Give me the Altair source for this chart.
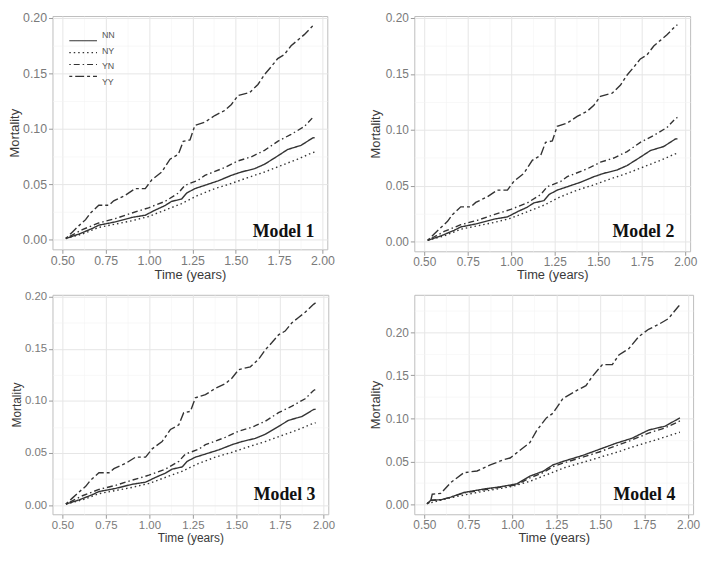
import altair as alt
import pandas as pd

# ---------------- data ----------------
series = ["NN", "NY", "YN", "YY"]

# Models 1-3 (the three panels are visually identical)
m1_nn_t = [0.52, 0.596, 0.672, 0.71, 0.806, 0.901, 0.978, 1.035, 1.092, 1.13, 1.188, 1.217, 1.264, 1.322,
           1.398, 1.475, 1.532, 1.608, 1.666, 1.742, 1.80, 1.876, 1.943, 1.955]
m1_nn_v = [0.001, 0.005, 0.010, 0.013, 0.016, 0.020, 0.022, 0.0266, 0.0307, 0.0345, 0.0366, 0.042, 0.046, 0.049,
           0.053, 0.058, 0.061, 0.064, 0.068, 0.0755, 0.0814, 0.085, 0.0917, 0.092]
m1_ny_t = [0.52, 0.615, 0.71, 0.806, 0.901, 0.997, 1.092, 1.188, 1.283, 1.379, 1.475, 1.57, 1.666, 1.761,
           1.857, 1.943, 1.955]
m1_ny_v = [0.001, 0.005, 0.011, 0.014, 0.017, 0.0208, 0.0266, 0.0325, 0.040, 0.046, 0.0507, 0.056, 0.061,
           0.0668, 0.0726, 0.0785, 0.079]
m1_yn_t = [0.52, 0.615, 0.71, 0.806, 0.901, 0.997, 1.092, 1.169, 1.207, 1.283, 1.322, 1.436, 1.513, 1.589,
           1.666, 1.742, 1.819, 1.895, 1.943, 1.955]
m1_yn_v = [0.001, 0.009, 0.015, 0.019, 0.024, 0.0287, 0.0345, 0.042, 0.049, 0.0536, 0.058, 0.065, 0.071,
           0.0747, 0.0805, 0.0887, 0.095, 0.102, 0.110, 0.111]
m1_yy_t = [0.52, 0.557, 0.596, 0.634, 0.662, 0.71, 0.768, 0.796, 0.863, 0.92, 0.978, 1.016, 1.073, 1.121,
           1.169, 1.197, 1.236, 1.264, 1.322, 1.379, 1.436, 1.475, 1.513, 1.58, 1.628, 1.666, 1.704, 1.742,
           1.78, 1.819, 1.857, 1.895, 1.943, 1.955]
m1_yy_v = [0.001, 0.0067, 0.0126, 0.018, 0.024, 0.031, 0.031, 0.035, 0.040, 0.046, 0.046, 0.054, 0.061,
           0.0726, 0.077, 0.0887, 0.090, 0.103, 0.106, 0.112, 0.1165, 0.122, 0.130, 0.1327, 0.140, 0.149,
           0.156, 0.1634, 0.167, 0.175, 0.180, 0.185, 0.1927, 0.194]

# Model 4
m4_nn_t = [0.515, 0.5375, 0.594, 0.65, 0.725, 0.8375, 0.931, 1.025, 1.10, 1.175, 1.231, 1.2875, 1.40,
           1.494, 1.5875, 1.681, 1.775, 1.869, 1.953]
m4_nn_v = [0.001, 0.005, 0.0056, 0.0086, 0.014, 0.018, 0.0206, 0.024, 0.033, 0.0386, 0.046, 0.050, 0.057,
           0.064, 0.071, 0.077, 0.0865, 0.091, 0.1006]
m4_ny_t = [0.515, 0.65, 0.8, 1.0, 1.1, 1.2, 1.3, 1.4, 1.5, 1.6, 1.7, 1.8, 1.953]
m4_ny_v = [0.001, 0.008, 0.014, 0.021, 0.027, 0.035, 0.043, 0.049, 0.055, 0.061, 0.068, 0.074, 0.084]
m4_yn_t = [0.515, 0.5375, 0.594, 0.65, 0.725, 0.8375, 0.931, 1.025, 1.10, 1.175, 1.231, 1.2875, 1.40,
           1.494, 1.5875, 1.681, 1.775, 1.869, 1.953]
m4_yn_v = [0.001, 0.005, 0.0056, 0.0086, 0.0135, 0.017, 0.020, 0.023, 0.031, 0.037, 0.044, 0.048, 0.055,
           0.061, 0.068, 0.075, 0.083, 0.089, 0.097]
m4_yy_t = [0.515, 0.535, 0.545, 0.594, 0.65, 0.725, 0.80, 0.875, 0.95, 0.9875, 1.044, 1.10, 1.1375, 1.194,
           1.231, 1.2875, 1.3625, 1.419, 1.456, 1.5125, 1.569, 1.606, 1.6625, 1.719, 1.775, 1.831, 1.8875,
           1.944, 1.955]
m4_yy_v = [0.001, 0.003, 0.012, 0.013, 0.0255, 0.037, 0.039, 0.046, 0.052, 0.054, 0.063, 0.072, 0.0855,
           0.1006, 0.106, 0.123, 0.132, 0.138, 0.149, 0.1625, 0.1625, 0.1737, 0.181, 0.195, 0.2035, 0.209,
           0.2158, 0.230, 0.232]

x_major = [0.5, 0.75, 1.0, 1.25, 1.5, 1.75, 2.0]
x_minor = [0.625, 0.875, 1.125, 1.375, 1.625, 1.875]
y_major = [0.0, 0.05, 0.10, 0.15, 0.20]
y_minor_a = [0.025, 0.075, 0.125, 0.175]
y_minor_b = [0.025, 0.075, 0.125, 0.175, 0.225]

model_labels = ["Model 1", "Model 2", "Model 3", "Model 4"]

# ---------------- styling ----------------
LINE = "#333333"
dash_styles = [[1, 0], [1.5, 3], [1.5, 3, 6, 3], [3, 3, 9, 3]]
X_DOMAIN = [0.443, 2.028]


def frame(nn_t, nn_v, ny_t, ny_v, yn_t, yn_v, yy_t, yy_v):
    parts = []
    for name, t, v in [("NN", nn_t, nn_v), ("NY", ny_t, ny_v), ("YN", yn_t, yn_v), ("YY", yy_t, yy_v)]:
        parts.append(pd.DataFrame({"series": name, "time": t, "mortality": v}))
    return pd.concat(parts, ignore_index=True)


def panel(df, label, ydom, yminor, w, h, fs, tfs, tpad, lab_dx, lab_dy, legend=False):
    xminor_test = "abs(datum.value*4 - round(datum.value*4)) > 0.01"
    yminor_test = "abs(datum.value*20 - round(datum.value*20)) > 0.01"
    x_axis = alt.Axis(
        values=sorted(x_major + x_minor),
        labelExpr=f"{xminor_test} ? '' : format(datum.value, '.2f')",
        title="Time (years)", titleFontSize=tfs, titleFont="Liberation Sans", titleFontWeight="normal",
        titleColor="#3a3a3a", titlePadding=2,
        labelFont="Liberation Sans", labelFontSize=fs, labelColor="#7a7a7a", labelPadding=1,
        labelFlush=False, domain=False, tickSize=4,
        tickColor={"condition": {"test": xminor_test, "value": "transparent"}, "value": "#9a9a9a"},
        gridColor={"condition": {"test": xminor_test, "value": "#f3f3f3"}, "value": "#e6e6e6"},
        gridWidth={"condition": {"test": xminor_test, "value": 0.6}, "value": 1},
    )
    y_axis = alt.Axis(
        values=sorted(y_major + yminor),
        labelExpr=f"{yminor_test} ? '' : format(datum.value, '.2f')",
        title="Mortality", titleFontSize=tfs, titleFont="Liberation Sans", titleFontWeight="normal",
        titleColor="#3a3a3a", titlePadding=tpad,
        labelFont="Liberation Sans", labelFontSize=fs, labelColor="#7a7a7a", labelPadding=2,
        labelFlush=False, domain=False, tickSize=4,
        tickColor={"condition": {"test": yminor_test, "value": "transparent"}, "value": "#9a9a9a"},
        gridColor={"condition": {"test": yminor_test, "value": "#f3f3f3"}, "value": "#e6e6e6"},
        gridWidth={"condition": {"test": yminor_test, "value": 0.6}, "value": 1},
    )
    dash = alt.StrokeDash("series:N", scale=alt.Scale(domain=series, range=dash_styles), legend=None)

    lines = alt.Chart(df).mark_line(color=LINE, strokeWidth=1.4).encode(
        x=alt.X("time:Q", scale=alt.Scale(domain=X_DOMAIN, nice=False, zero=False), axis=x_axis),
        y=alt.Y("mortality:Q", scale=alt.Scale(domain=ydom, nice=False, zero=False), axis=y_axis),
        strokeDash=dash,
        detail="series:N",
    )
    txt = alt.Chart(pd.DataFrame({"label": [label]})).mark_text(
        align="right", baseline="alphabetic", font="Liberation Serif", fontWeight="bold",
        fontSize=18, color="#111111",
    ).encode(x=alt.value(w - lab_dx), y=alt.value(h - lab_dy), text="label:N")

    layers = [lines]
    if legend:
        leg_df = pd.DataFrame({"series": series})
        ly = alt.Y("series:N", scale=alt.Scale(domain=series, range=[19, 67], padding=0), axis=None)
        leg_rule = alt.Chart(leg_df).mark_rule(color=LINE, strokeWidth=1.2).encode(
            x=alt.value(17), x2=alt.value(45), y=ly, strokeDash=dash)
        leg_txt = alt.Chart(leg_df).mark_text(
            align="left", baseline="middle", font="Liberation Sans", fontSize=9,
            color="#555555", fill="#555555"
        ).encode(x=alt.value(50), y=ly, text="series:N")
        layers += [leg_rule, leg_txt]
    layers.append(txt)
    ch = alt.layer(*layers).properties(width=w, height=h)
    if legend:
        ch = ch.resolve_scale(y="independent")
    return ch


df123 = frame(m1_nn_t, m1_nn_v, m1_ny_t, m1_ny_v, m1_yn_t, m1_yn_v, m1_yy_t, m1_yy_v)
df4 = frame(m4_nn_t, m4_nn_v, m4_ny_t, m4_ny_v, m4_yn_t, m4_yn_v, m4_yy_t, m4_yy_v)

Y123 = [-0.0088, 0.2018]
Y4 = [-0.0113, 0.2435]

p1 = panel(df123, model_labels[0], Y123, y_minor_a, 278, 236, 12.5, 13, 1, 13, 12, legend=True)
p2 = panel(df123, model_labels[1], Y123, y_minor_a, 279, 238, 12, 13, 3, 16, 14)
p3 = panel(df123, model_labels[2], Y123, y_minor_a, 279, 222, 11.5, 12, 1, 13, 14)
p4 = panel(df4, model_labels[3], Y4, y_minor_b, 282, 222, 12, 13, 3, 18, 14)

chart = alt.concat(
    p1, p2, p3, p4, columns=2,
    spacing={"row": 7, "column": 34},
).properties(
    padding=0, align={"row": "all", "column": "none"}
).configure_view(stroke="#bdbdbd", strokeWidth=1)

chart.save("out.html", embed_options={"renderer": "svg", "actions": False})
